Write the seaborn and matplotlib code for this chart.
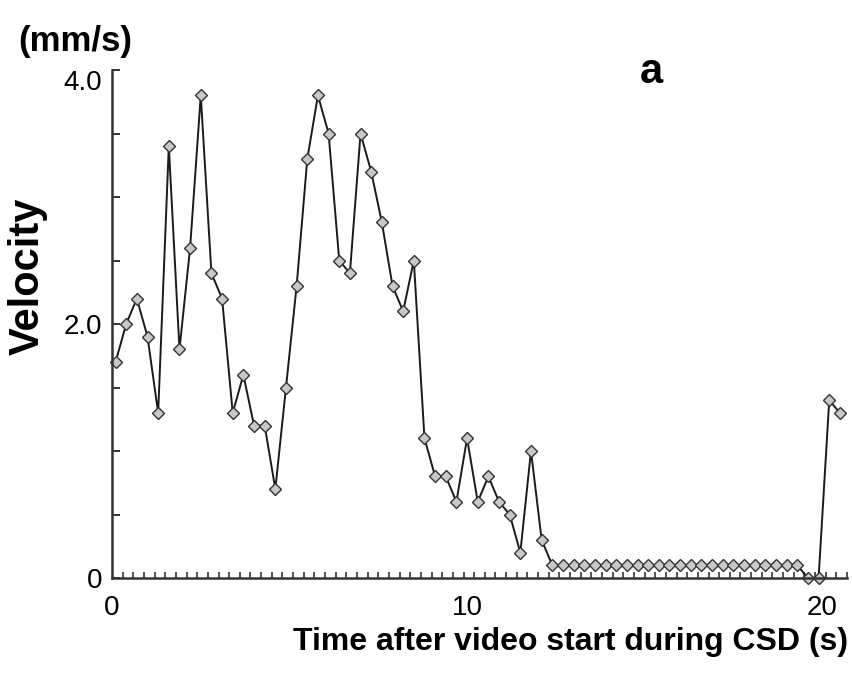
import matplotlib
matplotlib.use("Agg")
import matplotlib.pyplot as plt
import seaborn as sns
import pandas as pd
from matplotlib.ticker import MultipleLocator, FixedLocator

# ---- data ----
time_s = [0.1, 0.4, 0.7, 1.0, 1.3, 1.6, 1.9, 2.2, 2.5, 2.8,
          3.1, 3.4, 3.7, 4.0, 4.3, 4.6, 4.9, 5.2, 5.5, 5.8,
          6.1, 6.4, 6.7, 7.0, 7.3, 7.6, 7.9, 8.2, 8.5, 8.8,
          9.1, 9.4, 9.7, 10.0, 10.3, 10.6, 10.9, 11.2, 11.5, 11.8,
          12.1, 12.4, 12.7, 13.0, 13.3, 13.6, 13.9, 14.2, 14.5, 14.8,
          15.1, 15.4, 15.7, 16.0, 16.3, 16.6, 16.9, 17.2, 17.5, 17.8,
          18.1, 18.4, 18.7, 19.0, 19.3, 19.6, 19.9, 20.2, 20.5]
velocity = [1.7, 2.0, 2.2, 1.9, 1.3, 3.4, 1.8, 2.6, 3.8, 2.4,
            2.2, 1.3, 1.6, 1.2, 1.2, 0.7, 1.5, 2.3, 3.3, 3.8,
            3.5, 2.5, 2.4, 3.5, 3.2, 2.8, 2.3, 2.1, 2.5, 1.1,
            0.8, 0.8, 0.6, 1.1, 0.6, 0.8, 0.6, 0.5, 0.2, 1.0,
            0.3, 0.1, 0.1, 0.1, 0.1, 0.1, 0.1, 0.1, 0.1, 0.1,
            0.1, 0.1, 0.1, 0.1, 0.1, 0.1, 0.1, 0.1, 0.1, 0.1,
            0.1, 0.1, 0.1, 0.1, 0.1, 0.0, 0.0, 1.4, 1.3]
x_ticks = [0, 10, 20]
x_tick_labels = ["0", "10", "20"]
y_ticks = [0, 2.0, 4.0]
y_tick_labels = ["0", "2.0", "4.0"]

df = pd.DataFrame({"t": time_s, "v": velocity})

sns.set_style("white")
plt.rcParams["font.family"] = ["Liberation Sans", "DejaVu Sans"]
plt.rcParams["text.color"] = "black"

W, H = 852, 682
fig = plt.figure(figsize=(W / 100, H / 100), dpi=100)
ax = fig.add_axes([112 / W, 104 / H, 735 / W, 508 / H])

sns.lineplot(data=df, x="t", y="v", ax=ax, color="#1a1a1a", linewidth=1.4,
             marker="D", markersize=6, markerfacecolor="#c8c8c8",
             markeredgecolor="#333333", markeredgewidth=1.0, clip_on=False,
             estimator=None, sort=False)

ax.set_xlim(0, 20.7)
ax.set_ylim(0, 4.0)

for s in ["top", "right"]:
    ax.spines[s].set_visible(False)
for s in ["left", "bottom"]:
    ax.spines[s].set_color("#333333")
    ax.spines[s].set_linewidth(1.8)

ax.xaxis.set_major_locator(FixedLocator(x_ticks))
ax.set_xticklabels(x_tick_labels)
ax.xaxis.set_minor_locator(MultipleLocator(0.3))
ax.yaxis.set_major_locator(FixedLocator(y_ticks))
ax.set_yticklabels(y_tick_labels)
ax.yaxis.set_minor_locator(MultipleLocator(0.5))

ax.tick_params(axis="x", which="major", direction="in", length=0, pad=12,
               labelsize=20, labelcolor="black")
ax.tick_params(axis="x", which="minor", direction="in", length=4, width=1.2,
               color="#333333", bottom=True)
ax.tick_params(axis="y", which="major", direction="in", length=6, width=1.4,
               pad=7, labelsize=20, color="#333333", labelcolor="black", left=True)
ax.tick_params(axis="y", which="minor", direction="in", length=6, width=1.4,
               color="#333333", left=True)
# the top label sits just below its tick, as in the reference
ax.get_yticklabels()[-1].set_verticalalignment("top")

ax.set_xlabel("")
ax.set_ylabel("")

fig.text(18 / W, 1 - 42 / H, "(mm/s)", fontsize=25, fontweight="bold",
         ha="left", va="center", color="black")
fig.text(28 / W, 1 - 276 / H, "Velocity", fontsize=30, fontweight="bold",
         rotation=90, ha="center", va="center", color="black")
fig.text(651 / W, 1 - 72 / H, "a", fontsize=30, fontweight="bold",
         ha="center", va="center", color="black")
fig.text(848 / W, 1 - 642 / H, "Time after video start during CSD (s)",
         fontsize=23, fontweight="bold", ha="right", va="center", color="black")

fig.savefig("out.png", dpi=100)
